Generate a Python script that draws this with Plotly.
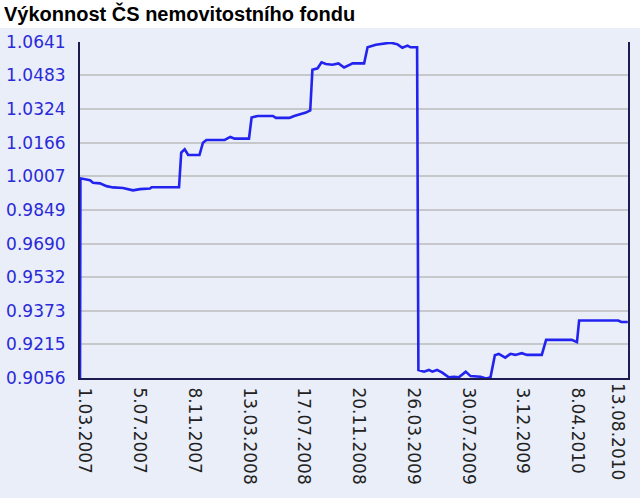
import plotly.graph_objects as go

dates = [
    "2007-03-01", "2007-03-02", "2007-03-24", "2007-03-31", "2007-04-16", "2007-05-01",
    "2007-05-16", "2007-06-08", "2007-07-01", "2007-07-17", "2007-08-09", "2007-08-13",
    "2007-10-15", "2007-10-20", "2007-10-28", "2007-11-05", "2007-12-01", "2007-12-09",
    "2007-12-17", "2008-01-28", "2008-02-10", "2008-02-20", "2008-03-24", "2008-03-30",
    "2008-04-13", "2008-05-18", "2008-05-25", "2008-06-25", "2008-07-06", "2008-07-18",
    "2008-08-02", "2008-08-12", "2008-08-17", "2008-08-29", "2008-09-07", "2008-09-17",
    "2008-10-02", "2008-10-16", "2008-10-29", "2008-11-14", "2008-11-17", "2008-12-14",
    "2008-12-22", "2009-01-10", "2009-01-29", "2009-02-13", "2009-03-01", "2009-03-12",
    "2009-03-24", "2009-03-31", "2009-04-15", "2009-04-18", "2009-05-01", "2009-05-12",
    "2009-05-20", "2009-05-31", "2009-06-12", "2009-06-27", "2009-07-09", "2009-07-20",
    "2009-08-05", "2009-08-16", "2009-09-08", "2009-09-21", "2009-10-01", "2009-10-11",
    "2009-10-20", "2009-11-04", "2009-11-16", "2009-11-27", "2009-12-12", "2009-12-24",
    "2010-01-27", "2010-02-06", "2010-04-06", "2010-04-18", "2010-04-23", "2010-07-22",
    "2010-07-29", "2010-08-13",
]
values = [
    0.9056, 0.9998, 0.9989, 0.9977, 0.9974, 0.9961,
    0.9955, 0.9952, 0.9941, 0.9947, 0.9950, 0.9956,
    0.9956, 1.0119, 1.0135, 1.0108, 1.0108, 1.0166,
    1.0179, 1.0179, 1.0193, 1.0185, 1.0185, 1.0285,
    1.0292, 1.0292, 1.0283, 1.0283, 1.0292, 1.0299,
    1.0308, 1.0318, 1.0510, 1.0517, 1.0545, 1.0537,
    1.0534, 1.0540, 1.0521, 1.0537, 1.0540, 1.0540,
    1.0616, 1.0628, 1.0635, 1.0638, 1.0630, 1.0614,
    1.0624, 1.0616, 1.0616, 0.9094, 0.9086, 0.9094,
    0.9086, 0.9094, 0.9081, 0.9059, 0.9062, 0.9059,
    0.9086, 0.9065, 0.9062, 0.9054, 0.9059, 0.9163,
    0.9170, 0.9152, 0.9170, 0.9165, 0.9173, 0.9165,
    0.9165, 0.9236, 0.9236, 0.9225, 0.9327, 0.9327,
    0.9320, 0.9320,
]

x_tick_dates = [
    "2007-03-01", "2007-07-05", "2007-11-08", "2008-03-13", "2008-07-17", "2008-11-20",
    "2009-03-26", "2009-07-30", "2009-12-03", "2010-04-08", "2010-08-13",
]
x_tick_labels = [
    "1.03.2007", "5.07.2007", "8.11.2007", "13.03.2008", "17.07.2008", "20.11.2008",
    "26.03.2009", "30.07.2009", "3.12.2009", "8.04.2010", "13.08.2010",
]
y_tick_values = [0.9056, 0.9215, 0.9373, 0.9532, 0.9690, 0.9849,
                 1.0007, 1.0166, 1.0324, 1.0483, 1.0641]
y_tick_labels = ["0.9056", "0.9215", "0.9373", "0.9532", "0.9690", "0.9849",
                 "1.0007", "1.0166", "1.0324", "1.0483", "1.0641"]

title_text = "Výkonnost ČS nemovitostního fondu"

BG = "#e9eef8"
AXIS = "#1c1c50"
X_RANGE = ["2007-03-01", "2010-08-13 12:00"]
XFONT = dict(family="DejaVu Sans, Verdana", size=17, color="#222222")

fig = go.Figure()
fig.add_trace(go.Scatter(
    x=dates, y=values, mode="lines",
    line=dict(color="#2323f0", width=2.6),
    hoverinfo="skip", showlegend=False, cliponaxis=True,
))
# invisible companion trace so the secondary date axis (last label) is drawn
fig.add_trace(go.Scatter(
    x=dates[-1:], y=values[-1:], mode="lines", xaxis="x2", yaxis="y",
    line=dict(width=0), hoverinfo="skip", showlegend=False,
))

L, R, T, B = 80, 12, 42, 120
W, H = 640, 498
pw, ph = W - L - R, H - T - B

fig.add_shape(
    type="rect", xref="paper", yref="paper",
    x0=-L / pw, x1=(W - L) / pw,
    y0=1 + (T - 28) / ph, y1=1 + T / ph,
    fillcolor="white", line=dict(width=0), layer="below",
)

fig.update_layout(
    width=W, height=H,
    margin=dict(l=L, r=R, t=T, b=B, autoexpand=False),
    paper_bgcolor=BG, plot_bgcolor=BG,
    title=dict(
        text=title_text, x=4 / W, xanchor="left", xref="container",
        y=1 - 14 / H, yanchor="middle", yref="container",
        pad=dict(l=0, r=0, t=0, b=0),
        font=dict(family="Liberation Sans, Arial", size=20, color="black", weight="bold"),
    ),
    xaxis=dict(
        type="date", range=X_RANGE,
        tickmode="array", tickvals=x_tick_dates[:-1], ticktext=x_tick_labels[:-1],
        tickangle=90, ticklabelshift=5, ticklabelstandoff=4, automargin=False,
        tickfont=XFONT,
        showgrid=False, zeroline=False,
        showline=True, linecolor=AXIS, linewidth=2,
        ticks="",
    ),
    # last date label is pulled inside the plot edge, as in the original
    xaxis2=dict(
        type="date", range=X_RANGE, overlaying="x", side="bottom",
        anchor="y",
        tickmode="array", tickvals=x_tick_dates[-1:], ticktext=x_tick_labels[-1:],
        tickangle=90, ticklabelshift=-10, ticklabelstandoff=4, automargin=False,
        ticklabeloverflow="allow",
        tickfont=XFONT,
        showgrid=False, zeroline=False, showline=False,
        ticks="",
    ),
    yaxis=dict(
        range=[0.9056, 1.0641], automargin=False,
        tickmode="array", tickvals=y_tick_values, ticktext=y_tick_labels,
        tickfont=dict(family="DejaVu Sans, Verdana", size=17, color="#2a2ad8"),
        ticklabelstandoff=9,
        showgrid=True, gridcolor="#c6c8cc", gridwidth=2,
        zeroline=False,
        showline=True, linecolor=AXIS, linewidth=2, mirror=True,
        ticks="",
    ),
)

fig.write_html(
    "out.html",
    config={"displayModeBar": False, "staticPlot": True},
    post_script="document.body.style.margin='0';document.body.style.overflow='hidden';",
)
